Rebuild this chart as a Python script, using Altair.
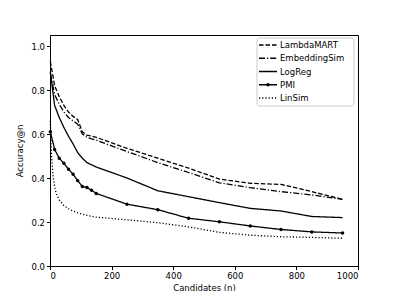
import altair as alt
import pandas as pd

series = ["LambdaMART", "EmbeddingSim", "LogReg", "PMI", "LinSim"]

n_main = [1, 15, 30, 45, 60, 75, 90, 105, 120, 135, 150, 250, 350, 450, 550, 650, 750, 850, 950]
lambdamart = [0.93, 0.82, 0.77, 0.73, 0.70, 0.68, 0.665, 0.61, 0.595, 0.59, 0.585, 0.535, 0.49, 0.445, 0.395, 0.376, 0.371, 0.338, 0.303]
embeddingsim = [0.876, 0.78, 0.735, 0.70, 0.675, 0.66, 0.645, 0.60, 0.585, 0.578, 0.572, 0.52, 0.47, 0.425, 0.378, 0.356, 0.338, 0.323, 0.303]
logreg = [0.883, 0.73, 0.675, 0.63, 0.59, 0.555, 0.515, 0.49, 0.47, 0.46, 0.45, 0.40, 0.342, 0.315, 0.288, 0.262, 0.25, 0.225, 0.22]
pmi = [0.61, 0.53, 0.49, 0.467, 0.44, 0.417, 0.388, 0.361, 0.357, 0.344, 0.33, 0.281, 0.256, 0.217, 0.201, 0.182, 0.166, 0.155, 0.150]

n_linsim = [1, 5, 10, 15, 20, 30, 45, 60, 75, 90, 105, 120, 135, 150, 250, 350, 450, 550, 650, 750, 850, 950]
linsim = [0.66, 0.50, 0.41, 0.36, 0.33, 0.30, 0.275, 0.26, 0.25, 0.242, 0.236, 0.23, 0.226, 0.222, 0.21, 0.197, 0.178, 0.153, 0.14, 0.133, 0.13, 0.126]

x_ticks = [0, 200, 400, 600, 800, 1000]
y_ticks = [0.0, 0.2, 0.4, 0.6, 0.8, 1.0]

rows = []
for name, xs, ys in [("LambdaMART", n_main, lambdamart), ("EmbeddingSim", n_main, embeddingsim),
                     ("LogReg", n_main, logreg), ("PMI", n_main, pmi), ("LinSim", n_linsim, linsim)]:
    for xv, yv in zip(xs, ys):
        rows.append({"n": xv, "acc": yv, "method": name})
df = pd.DataFrame(rows)
legend_df = pd.DataFrame({"method": series})
box_df = pd.DataFrame({"k": [0]})

FONT = "DejaVu Sans"
FS = 8.5
dash_scale = alt.Scale(domain=series, range=[[4.5, 2], [6, 2, 1.2, 2], [1, 0], [1, 0], [1.2, 2]])

x_enc = alt.X("n:Q", scale=alt.Scale(domain=[0, 1000], nice=False, zero=False),
              axis=alt.Axis(values=x_ticks, format="d", title="Candidates (n)"))
y_enc = alt.Y("acc:Q", scale=alt.Scale(domain=[0, 1.05], nice=False),
              axis=alt.Axis(values=y_ticks, format=".1f", title="Accuracy@n"))

lines = alt.Chart(df).mark_line(color="black", strokeWidth=1.3).encode(
    x=x_enc, y=y_enc,
    strokeDash=alt.StrokeDash("method:N", scale=dash_scale, legend=None),
)

points = alt.Chart(df).transform_filter(alt.datum.method == "PMI").mark_point(
    shape="circle", filled=True, color="black", size=12, opacity=1
).encode(x=x_enc, y=y_enc)

main = alt.layer(lines, points)

# legend drawn as marks
leg_y = alt.Y("method:N", scale=alt.Scale(type="point", domain=series, range=[10, 63], padding=0), axis=None)

leg_box = alt.Chart(box_df).mark_rect(fill="white", stroke="#cccccc", strokeWidth=1, cornerRadius=3).encode(
    x=alt.value(207), x2=alt.value(304), y=alt.value(3), y2=alt.value(71)
)
leg_rule = alt.Chart(legend_df).mark_rule(color="black", strokeWidth=1.3).encode(
    x=alt.value(209), x2=alt.value(227), y=leg_y,
    strokeDash=alt.StrokeDash("method:N", scale=dash_scale, legend=None),
)
leg_point = alt.Chart(legend_df).transform_filter(alt.datum.method == "PMI").mark_point(
    shape="circle", filled=True, color="black", size=12, opacity=1
).encode(x=alt.value(218), y=leg_y)
leg_text = alt.Chart(legend_df).mark_text(align="left", baseline="middle", font=FONT, fontSize=FS, color="black").encode(
    x=alt.value(230), y=leg_y, text="method:N"
)

legend = alt.layer(leg_box, leg_rule, leg_point, leg_text)

chart = alt.layer(main, legend).resolve_scale(
    y="independent"
).properties(
    width=308, height=231,
    autosize=alt.AutoSizeParams(type="none"),
    padding={"left": 42, "top": 27, "right": 33, "bottom": 25},
).configure_view(stroke="black", strokeWidth=1).configure_axis(
    grid=False, domainColor="black", tickColor="black", tickSize=3.5,
    labelFont=FONT, labelFontSize=FS, labelColor="black", labelPadding=2,
    titleFont=FONT, titleFontSize=FS, titleFontWeight="normal", titleColor="black",
).configure_axisX(titlePadding=3).configure_axisY(titlePadding=6)

chart.save("out.html", embed_options={"renderer": "svg", "actions": False})
